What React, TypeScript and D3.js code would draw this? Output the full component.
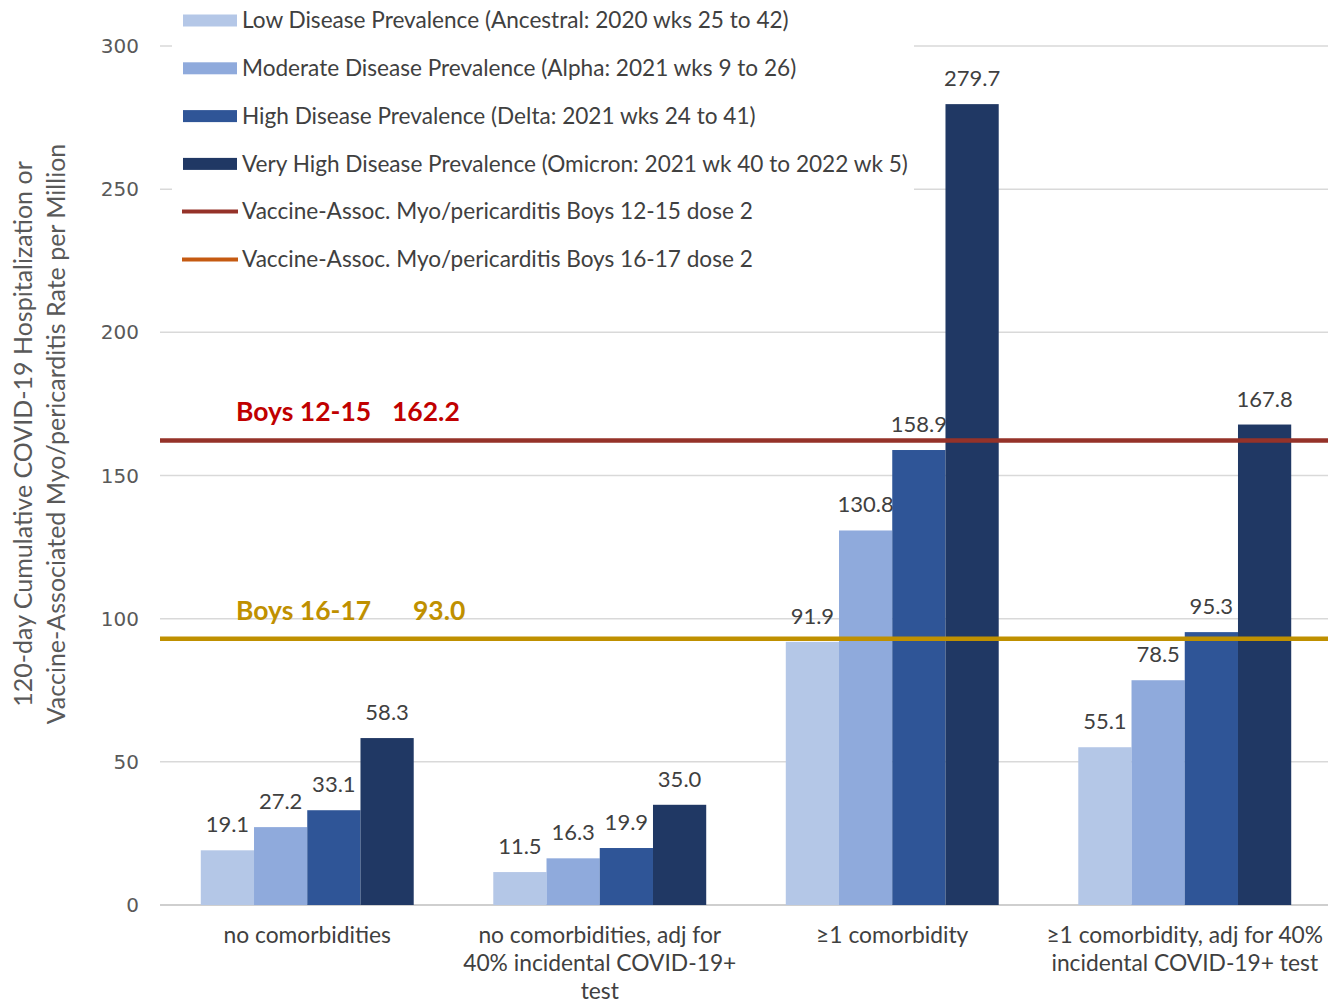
import React from "react";
import * as d3 from "d3";

const categories: string[][] = [
  ["no comorbidities"],
  ["no comorbidities, adj for", "40% incidental COVID-19+", "test"],
  ["≥1 comorbidity"],
  ["≥1 comorbidity, adj for 40%", "incidental COVID-19+ test"],
];
const seriesNames = [
  "Low Disease Prevalence (Ancestral: 2020 wks 25 to 42)",
  "Moderate Disease Prevalence (Alpha: 2021 wks 9 to 26)",
  "High Disease Prevalence (Delta: 2021 wks 24 to 41)",
  "Very High Disease Prevalence (Omicron: 2021 wk 40 to 2022 wk 5)",
];
const lowValues = [19.1, 11.5, 91.9, 55.1];
const moderateValues = [27.2, 16.3, 130.8, 78.5];
const highValues = [33.1, 19.9, 158.9, 95.3];
const veryHighValues = [58.3, 35.0, 279.7, 167.8];
const seriesColors = ["#B4C7E7", "#8FAADC", "#2F5597", "#203864"];

const refLineNames = [
  "Vaccine-Assoc. Myo/pericarditis Boys 12-15 dose 2",
  "Vaccine-Assoc. Myo/pericarditis Boys 16-17 dose 2",
];
const refLineValues = [162.2, 93.0];
const refLineLabels = ["Boys 12-15", "Boys 16-17"];
const refLineColors = ["#953229", "#BF9000"];
const refLabelColors = ["#C00000", "#BF9000"];
const refLegendColors = ["#953229", "#C55A11"];

const yTicks = [0, 50, 100, 150, 200, 250, 300];

const FONT = "Lato, 'Liberation Sans', Arial, sans-serif";

export default function App() {
  const W = 1328;
  const H = 1005;
  const series = [lowValues, moderateValues, highValues, veryHighValues];
  const y = d3.scaleLinear().domain([0, 300]).range([905, 46]);
  const x0 = d3
    .scaleBand<number>()
    .domain(d3.range(categories.length))
    .range([161, 1331])
    .paddingInner(0.272)
    .paddingOuter(0.136);
  const x1 = d3
    .scaleBand<number>()
    .domain(d3.range(series.length))
    .range([0, x0.bandwidth()]);

  return (
    <svg width={W} height={H} style={{ display: "block", position: "absolute", left: 0, top: 0 }} fontFamily={FONT}>
      <rect x={0} y={0} width={W} height={H} fill="#fff" />
      {/* gridlines */}
      {yTicks.map((t) => (
        <line key={t} x1={160} x2={W} y1={y(t)} y2={y(t)} stroke={t === 0 ? "#BFBFBF" : "#D9D9D9"} strokeWidth={1.5} />
      ))}
      {/* y tick labels */}
      {yTicks.map((t) => (
        <text key={t} x={139} y={y(t)} dy="0.35em" textAnchor="end" fontSize={20} fill="#595959" fontFamily="'DejaVu Sans', Verdana, sans-serif">
          {t}
        </text>
      ))}
      {/* y title */}
      <g transform="translate(32,434) rotate(-90)">
        <text x={0} y={0} textAnchor="middle" fontSize={25} fill="#595959">
          120-day Cumulative COVID-19 Hospitalization or
        </text>
        <text x={0} y={33} textAnchor="middle" fontSize={25} fill="#595959">
          Vaccine-Associated Myo/pericarditis Rate per Million
        </text>
      </g>
      {/* bars */}
      {categories.map((_, ci) => (
        <g key={ci} transform={`translate(${x0(ci)},0)`}>
          {series.map((vals, si) => (
            <rect
              key={si}
              x={x1(si)}
              y={y(vals[ci])}
              width={x1.bandwidth()}
              height={y(0) - y(vals[ci])}
              fill={seriesColors[si]}
            />
          ))}
        </g>
      ))}
      {/* reference lines */}
      {refLineValues.map((v, i) => (
        <line key={i} x1={160} x2={W} y1={y(v)} y2={y(v)} stroke={refLineColors[i]} strokeWidth={4.5} />
      ))}
      {/* data labels */}
      {categories.map((_, ci) => (
        <g key={ci} transform={`translate(${x0(ci)},0)`}>
          {series.map((vals, si) => (
            <text
              key={si}
              x={(x1(si) as number) + x1.bandwidth() / 2}
              y={y(vals[ci]) - 18}
              textAnchor="middle"
              fontSize={22}
              fill="#404040"
            >
              {vals[ci].toFixed(1)}
            </text>
          ))}
        </g>
      ))}
      {/* ref line labels */}
      <text x={236} y={421} fontSize={26.5} fontWeight="bold" fill={refLabelColors[0]}>
        {refLineLabels[0]}
      </text>
      <text x={392} y={421} fontSize={26.5} fontWeight="bold" fill={refLabelColors[0]}>
        {refLineValues[0].toFixed(1)}
      </text>
      <text x={236} y={620} fontSize={26.5} fontWeight="bold" fill={refLabelColors[1]}>
        {refLineLabels[1]}
      </text>
      <text x={413} y={620} fontSize={26.5} fontWeight="bold" fill={refLabelColors[1]}>
        {refLineValues[1].toFixed(1)}
      </text>
      {/* category labels */}
      {categories.map((lines, ci) => (
        <text key={ci} x={(x0(ci) as number) + x0.bandwidth() / 2} textAnchor="middle" fontSize={22.8} fill="#404040">
          {lines.map((l, li) => (
            <tspan key={li} x={(x0(ci) as number) + x0.bandwidth() / 2} y={943 + li * 28}>
              {l}
            </tspan>
          ))}
        </text>
      ))}
      {/* legend */}
      <rect x={172} y={0} width={742} height={280} fill="#fff" />
      {seriesNames.map((name, i) => (
        <g key={name} transform={`translate(0,${20.5 + i * 47.8})`}>
          <rect x={183} y={-6} width={54} height={12} fill={seriesColors[i]} />
          <text x={242} y={0} dy="0.35em" fontSize={22.6} fill="#404040">
            {name}
          </text>
        </g>
      ))}
      {refLineNames.map((name, i) => (
        <g key={name} transform={`translate(0,${211.5 + i * 48})`}>
          <line x1={182} x2={238} y1={0} y2={0} stroke={refLegendColors[i]} strokeWidth={4} />
          <text x={242} y={0} dy="0.35em" fontSize={22.6} fill="#404040">
            {name}
          </text>
        </g>
      ))}
    </svg>
  );
}
